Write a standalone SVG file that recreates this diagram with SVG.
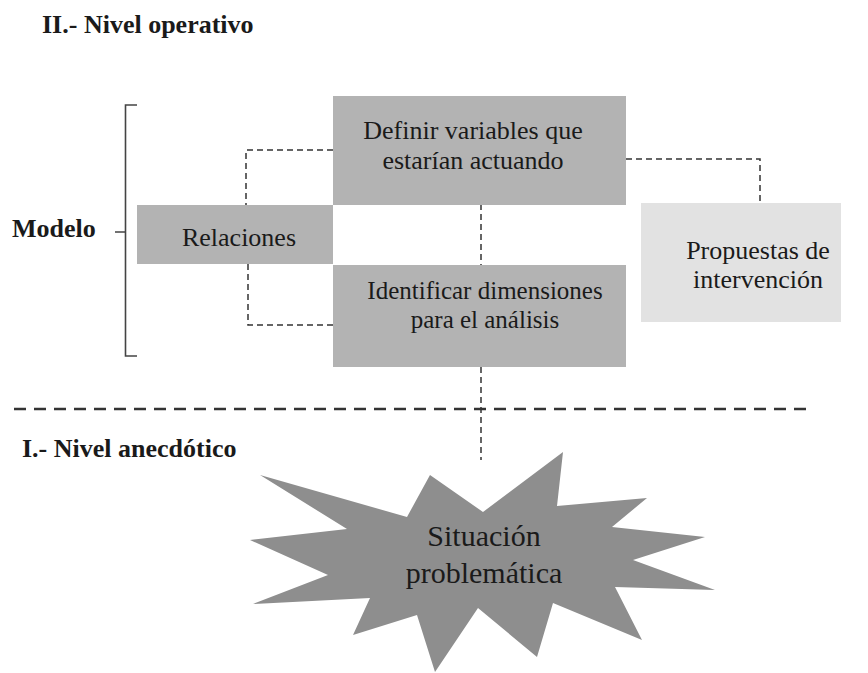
<svg xmlns="http://www.w3.org/2000/svg" width="868" height="673" viewBox="0 0 868 673">
  <style>
    .box { fill: #b3b3b3; }
    .box-light { fill: #e2e2e2; }
    .star { fill: #8e8e8e; }
    .lbl { font-size: 26px; fill: #1a1a1a; text-anchor: middle; }
    .lbl-sm { font-size: 25px; }
    .lbl-lg { font-size: 30px; }
    .head { font-size: 26px; font-weight: bold; fill: #1a1a1a; }
    .link { fill: none; stroke: #333; stroke-width: 1.5; stroke-dasharray: 6 4; }
    .divider { fill: none; stroke: #333; stroke-width: 2.5; stroke-dasharray: 12 8; }
    .bracket { fill: none; stroke: #444; stroke-width: 1.6; }
  </style>

  <rect width="868" height="673" fill="#ffffff"/>

  <g font-family="Liberation Serif, serif">
    <!-- level headings -->
    <text class="head" x="42" y="33">II.- Nivel operativo</text>
    <text class="head" x="22" y="457">I.- Nivel anecdótico</text>

    <!-- model bracket -->
    <g id="modelo">
      <text class="head" x="12" y="237">Modelo</text>
      <path class="bracket" d="M137,105 H125.5 V356 H137 M115,232 H125.5"/>
    </g>

    <!-- connectors -->
    <g id="connectors">
      <path class="link" d="M333,150 H246 V205"/>
      <path class="link" d="M248,264 V325 H333"/>
      <path class="link" d="M481,204 V265"/>
      <path class="link" d="M626,159 H760 V203"/>
      <path class="link" d="M481,367 V460"/>
      <path class="divider" d="M14,409 H812"/>
    </g>

    <g id="definir">
      <rect class="box" x="333" y="96" width="293" height="109"/>
      <text class="lbl" x="473" y="139">Definir variables que</text>
      <text class="lbl" x="473" y="169">estarían actuando</text>
    </g>

    <g id="relaciones">
      <rect class="box" x="137" y="205" width="196" height="59"/>
      <text class="lbl" x="239" y="246">Relaciones</text>
    </g>

    <g id="identificar">
      <rect class="box" x="333" y="265" width="293" height="102"/>
      <text class="lbl lbl-sm" x="485" y="299">Identificar dimensiones</text>
      <text class="lbl lbl-sm" x="485" y="328">para el análisis</text>
    </g>

    <g id="propuestas">
      <rect class="box-light" x="641" y="203" width="200" height="119"/>
      <text class="lbl" x="758" y="259">Propuestas de</text>
      <text class="lbl" x="758" y="288">intervención</text>
    </g>

    <g id="situacion">
      <polygon class="star" points="260,475 407,517 430,475 483,512 563,452 557,506 647,498 612,527 705,537 633,560 715,590 615,587 642,640 553,603 537,657 478,608 435,672 417,615 353,635 370,598 253,604 328,575 250,540 347,529"/>
      <text class="lbl lbl-lg" x="484" y="546">Situación</text>
      <text class="lbl lbl-lg" x="484" y="583">problemática</text>
    </g>
  </g>
</svg>
